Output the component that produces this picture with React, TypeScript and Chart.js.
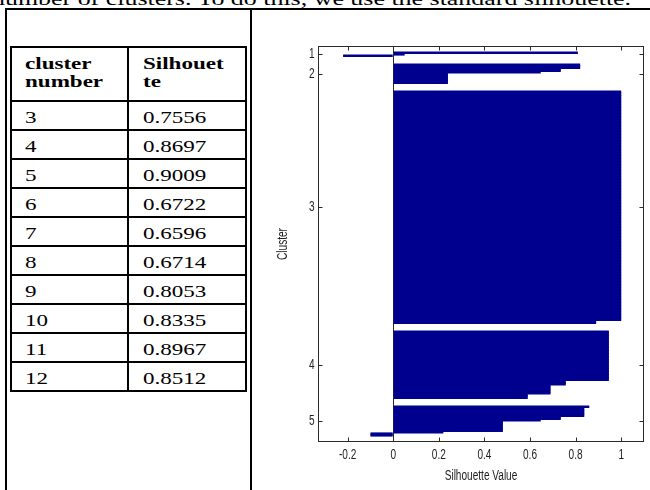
import React, { useEffect, useRef } from 'react';
import { Chart, registerables } from 'chart.js';

Chart.register(...registerables);

// ---------- table data ----------
const HEADER_CLUSTER = 'cluster\nnumber';
const HEADER_SILHOUETTE = 'Silhouet\nte';
const CLUSTER_NUMBERS = ['3', '4', '5', '6', '7', '8', '9', '10', '11', '12'];
const SILHOUETTE_SCORES = ['0.7556', '0.8697', '0.9009', '0.6722', '0.6596', '0.6714', '0.8053', '0.8335', '0.8967', '0.8512'];
const TOP_TEXT = 'number of clusters. To do this, we use the standard silhouette.';

// ---------- silhouette plot data ----------
// each cluster: sorted runs of [silhouette value, number of points]
const CLUSTER_LABELS = ['1', '2', '3', '4', '5'];
const cluster1: [number, number][] = [[0.81, 1], [0.05, 1], [-0.22, 1]];
const cluster2: [number, number][] = [[0.82, 3], [0.735, 2], [0.647, 1], [0.24, 7]];
const cluster3: [number, number][] = [[1.0, 153], [0.89, 2]];
const cluster4: [number, number][] = [[0.946, 33], [0.757, 3], [0.69, 6], [0.59, 3]];
const cluster5: [number, number][] = [[0.86, 1], [0.838, 6], [0.735, 2], [0.647, 1], [0.481, 7], [0.22, 1], [-0.1, 2]];
const CLUSTERS = [cluster1, cluster2, cluster3, cluster4, cluster5];
const X_TICKS = [-0.2, 0, 0.2, 0.4, 0.6, 0.8, 1];
const X_MIN = -0.33;
const X_MAX = 1.1;
const EDGE_GAP = 4;
const CLUSTER_GAP = 5;

const BAR_COLOR = '#00008f';
const AXIS_COLOR = '#2a2a2a';
const LABEL_COLOR = '#1e1e1e';
const TEXT_FONT = "'Liberation Serif', 'Times New Roman', serif";
const CHART_FONT = "'Liberation Sans', Arial, sans-serif";
const CHART_FONT_SIZE = 14;
const NARROW = 0.72;
const STRETCH = 1.44;
const TICK_LEN = 4.5;

const frameTicksPlugin = {
  id: 'frameTicks',
  beforeDraw(chart: any) {
    const ctx = chart.ctx;
    if (!ctx.__narrowText) {
      const orig = ctx.fillText.bind(ctx);
      ctx.fillText = (t: string, x: number, y: number, mw?: number) => {
        ctx.save();
        ctx.translate(x, y);
        ctx.scale(NARROW, 1);
        if (mw === undefined) orig(t, 0, 0);
        else orig(t, 0, 0, mw / NARROW);
        ctx.restore();
      };
      ctx.__narrowText = true;
    }
  },
  afterDraw(chart: any) {
    const { ctx, chartArea: a, scales } = chart;
    const xs = scales.x;
    const ys = scales.y;
    ctx.save();
    ctx.strokeStyle = AXIS_COLOR;
    ctx.lineWidth = 1;
    ctx.strokeRect(a.left + 0.5, a.top + 0.5, a.right - a.left - 1, a.bottom - a.top - 1);
    ctx.beginPath();
    xs.ticks.forEach((t: any) => {
      const px = Math.round(xs.getPixelForValue(t.value)) + 0.5;
      ctx.moveTo(px, a.bottom);
      ctx.lineTo(px, a.bottom - TICK_LEN);
      ctx.moveTo(px, a.top);
      ctx.lineTo(px, a.top + TICK_LEN);
    });
    ys.ticks.forEach((t: any) => {
      const py = Math.round(ys.getPixelForValue(t.value)) + 0.5;
      ctx.moveTo(a.left, py);
      ctx.lineTo(a.left + TICK_LEN, py);
      ctx.moveTo(a.right, py);
      ctx.lineTo(a.right - TICK_LEN, py);
    });
    ctx.stroke();
    ctx.restore();
  },
};

function Cell({ text, bold, padLeft, height }: { text: string; bold?: boolean; padLeft: number; height: number }) {
  return (
    <div
      style={{
        boxSizing: 'border-box',
        height,
        borderRight: '2px solid #000',
        borderBottom: '2px solid #000',
        paddingLeft: padLeft,
        paddingTop: 7,
        font: `${bold ? 'bold ' : ''}16px ${TEXT_FONT}`,
        lineHeight: '18.3px',
        color: '#000',
      }}
    >
      <span style={{ display: 'inline-block', whiteSpace: 'pre', transform: `scaleX(${STRETCH})`, transformOrigin: 'left top' }}>{text}</span>
    </div>
  );
}

export default function App() {
  const canvasRef = useRef<HTMLCanvasElement>(null);

  useEffect(() => {
    const canvas = canvasRef.current;
    if (!canvas) return;

    const points: { x: number; y: number }[] = [];
    const centers: number[] = [];
    let pos = EDGE_GAP;
    CLUSTERS.forEach((runs, ci) => {
      if (ci > 0) pos += CLUSTER_GAP;
      const start = pos;
      runs.forEach(([v, n]) => {
        for (let k = 0; k < n; k++) points.push({ x: v, y: pos++ });
      });
      centers.push((start + pos - 1) / 2);
    });
    const total = pos + EDGE_GAP;
    const font = { family: CHART_FONT, size: CHART_FONT_SIZE };

    const chart = new Chart(canvas, {
      type: 'bar',
      data: {
        datasets: [
          {
            data: points as any,
            backgroundColor: BAR_COLOR,
            borderWidth: 0,
            barPercentage: 1.8,
            categoryPercentage: 1,
          },
        ],
      },
      options: {
        indexAxis: 'y',
        responsive: false,
        animation: false,
        events: [],
        layout: { padding: { top: 34, right: 6, bottom: 0, left: 0 } },
        plugins: { legend: { display: false }, tooltip: { enabled: false } },
        scales: {
          x: {
            type: 'linear',
            min: X_MIN,
            max: X_MAX,
            afterBuildTicks: (scale: any) => {
              scale.ticks = X_TICKS.map((v) => ({ value: v }));
            },
            afterFit: (scale: any) => {
              scale.height = 48;
            },
            ticks: {
              autoSkip: false,
              maxRotation: 0,
              padding: 5,
              color: LABEL_COLOR,
              font,
              callback: (value: any) => String(value),
            },
            grid: {
              drawTicks: false,
              color: (ctx: any) => (ctx.tick && ctx.tick.value === 0 ? AXIS_COLOR : 'rgba(0,0,0,0)'),
            },
            border: { display: false },
            title: {
              display: true,
              text: 'Silhouette Value',
              color: LABEL_COLOR,
              font,
              padding: { top: 0, bottom: 5 },
            },
          },
          y: {
            type: 'linear',
            reverse: true,
            offset: false,
            min: -0.5,
            max: total - 0.5,
            afterBuildTicks: (scale: any) => {
              scale.ticks = centers.map((v) => ({ value: v }));
            },
            afterFit: (scale: any) => {
              scale.width = 66;
            },
            ticks: {
              autoSkip: false,
              padding: 3.5,
              color: LABEL_COLOR,
              font,
              callback: (_v: any, index: number) => CLUSTER_LABELS[index],
            },
            grid: { display: false, drawTicks: false, offset: false },
            border: { display: false },
            title: {
              display: true,
              text: 'Cluster',
              color: LABEL_COLOR,
              font,
              padding: { top: 22.5, bottom: 0 },
            },
          },
        },
      } as any,
      plugins: [frameTicksPlugin],
    });
    return () => chart.destroy();
  }, []);

  return (
    <div style={{ position: 'absolute', left: 0, top: 0, width: 650, height: 490, overflow: 'hidden', background: '#fff' }}>
      <div
        style={{
          position: 'absolute',
          left: -8,
          top: -11,
          whiteSpace: 'nowrap',
          font: `18px ${TEXT_FONT}`,
          lineHeight: '20px',
          transform: `scaleX(${STRETCH})`,
          transformOrigin: 'left top',
          color: '#000',
        }}
      >
        {TOP_TEXT}
      </div>
      <div style={{ position: 'absolute', left: 5, top: 8, width: 700, height: 600, borderLeft: '2px solid #000', borderTop: '2px solid #000' }} />
      <div style={{ position: 'absolute', left: 250, top: 8, width: 2, height: 600, background: '#000' }} />
      <div
        style={{
          position: 'absolute',
          left: 10,
          top: 46,
          display: 'grid',
          gridTemplateColumns: '117px 118px',
          borderLeft: '2px solid #000',
          borderTop: '2px solid #000',
        }}
      >
        <Cell text={HEADER_CLUSTER} bold padLeft={13} height={54} />
        <Cell text={HEADER_SILHOUETTE} bold padLeft={14} height={54} />
        {CLUSTER_NUMBERS.map((c, i) => (
          <React.Fragment key={c}>
            <Cell text={c} padLeft={13} height={29} />
            <Cell text={SILHOUETTE_SCORES[i]} padLeft={14} height={29} />
          </React.Fragment>
        ))}
      </div>
      <div style={{ position: 'absolute', left: 252, top: 12, width: 398, height: 478 }}>
        <canvas ref={canvasRef} width={398} height={478} />
      </div>
    </div>
  );
}
